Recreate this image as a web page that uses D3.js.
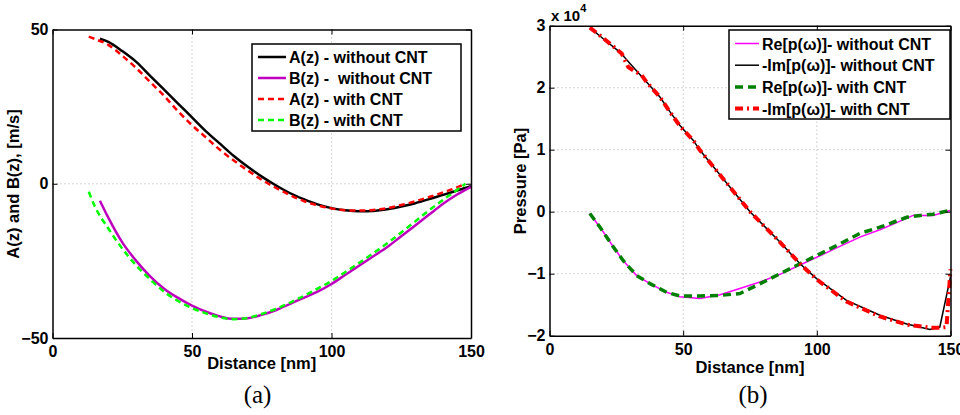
<!DOCTYPE html>
<html>
<head>
<meta charset="utf-8">
<script src="https://cdn.jsdelivr.net/npm/d3@7"></script>
<style>
  body { margin: 0; background: #fff; }
  svg { display: block; }
  text { font-family: "Liberation Sans", Arial, sans-serif; font-weight: bold; }
  .cap { font-family: "Liberation Serif", "Times New Roman", serif; font-weight: normal; }
</style>
</head>
<body>
<svg id="chart" width="960" height="415"></svg>
<script>
// ---- panel (a) data: A(z), B(z) [m/s] vs distance [nm]
const aNoCntX = [17, 20, 25, 30, 35, 40, 45, 50, 55, 60, 65, 70, 75, 80, 85, 90, 95, 100, 105, 110, 115, 120, 125, 130, 135, 140, 145, 150];
const aNoCntY = [47, 46, 43, 39.5, 35, 30.5, 26, 21.5, 17, 13, 9, 5.5, 2.3, -0.5, -3, -5, -6.7, -7.9, -8.6, -8.9, -8.8, -8.3, -7.4, -6.3, -5, -3.6, -2.2, -0.8];
const bNoCntX = [17, 20, 25, 30, 35, 40, 45, 50, 55, 60, 65, 70, 75, 80, 85, 90, 95, 100, 105, 110, 115, 120, 125, 130, 135, 140, 145, 150];
const bNoCntY = [-5.5, -11, -19, -25, -30, -34, -37, -39.5, -41.5, -43, -43.8, -43.6, -42.5, -41, -39, -37, -35, -32.5, -29.5, -26.5, -23.5, -20.5, -17, -13.5, -10, -6.5, -3.5, -1];
const aCntX = [13, 15, 20, 25, 30, 35, 40, 45, 50, 55, 60, 65, 70, 75, 80, 85, 90, 95, 100, 105, 110, 115, 120, 125, 130, 135, 140, 145, 148];
const aCntY = [47.7, 47, 45, 41.5, 37.5, 33, 28.5, 23.5, 19, 15, 11, 7.5, 4.3, 1.3, -1.3, -3.6, -5.6, -7, -8, -8.6, -8.7, -8.5, -7.9, -6.9, -5.7, -4.3, -2.8, -1.2, 0];
const bCntX = [13, 15, 20, 25, 30, 35, 40, 45, 50, 55, 60, 65, 70, 75, 80, 85, 90, 95, 100, 105, 110, 115, 120, 125, 130, 135, 140, 145, 148];
const bCntY = [-2.6, -7, -14.5, -21, -26.5, -31, -35, -38, -40.3, -42, -43.3, -43.9, -43.5, -42.2, -40.6, -38.6, -36.4, -34, -31.5, -28.6, -25.6, -22.5, -19.3, -15.8, -12.2, -8.6, -5.2, -2, 0];

// ---- panel (b) data: pressure [x 10^4 Pa] vs distance [nm]
const reNoCntX = [15, 18.9, 23.9, 27.6, 32.6, 37.6, 43.8, 48.8, 56.3, 63.8, 71.2, 78.7, 86.2, 93.7, 101.2, 108.6, 116.1, 123.6, 128.6, 136, 143.5, 149.8];
const reNoCntY = [-0.03, -0.25, -0.57, -0.79, -1.03, -1.16, -1.3, -1.37, -1.40, -1.34, -1.24, -1.135, -1.01, -0.86, -0.71, -0.56, -0.41, -0.29, -0.2, -0.06, -0.06, 0.02];
const imNoCntX = [15.1, 20.1, 26.4, 30.1, 36.3, 41.3, 45.1, 48.8, 53.8, 56.3, 75, 86.2, 93.7, 99.9, 111.1, 123.6, 133.6, 142.3, 146, 150];
const imNoCntY = [2.97, 2.79, 2.57, 2.39, 2.09, 1.85, 1.61, 1.39, 1.15, 0.99, 0.0, -0.49, -0.84, -1.08, -1.43, -1.67, -1.81, -1.90, -1.86, -1.05];
const reCntX = [15.1, 18.9, 23.9, 27.6, 32.6, 37.6, 43.8, 48.8, 56.3, 63.8, 71.2, 75, 81.2, 86.2, 93.7, 101.2, 108.6, 116.1, 123.6, 128.6, 133.6, 138.6, 143.5, 149.8];
const reCntY = [-0.03, -0.25, -0.57, -0.79, -1.03, -1.16, -1.3, -1.36, -1.36, -1.35, -1.32, -1.24, -1.11, -1.0, -0.84, -0.68, -0.52, -0.35, -0.25, -0.17, -0.09, -0.06, -0.04, 0.02];
const imCntX = [15.1, 20.1, 24, 27, 29.5, 31.3, 34.5, 36.3, 41.3, 45.5, 49, 53.8, 56.3, 75, 86.2, 93.7, 99.9, 111.1, 123.6, 133.6, 142.3, 146.5, 148.5, 150];
const imCntY = [2.97, 2.8, 2.66, 2.55, 2.33, 2.28, 2.2, 2.09, 1.85, 1.58, 1.37, 1.15, 0.99, 0.0, -0.49, -0.84, -1.09, -1.45, -1.69, -1.82, -1.87, -1.87, -1.86, -0.93];

// ticks
const xTicks = [0, 50, 100, 150];
const aYTicks = [-50, 0, 50];
const bYTicks = [-2, -1, 0, 1, 2, 3];

const svg = d3.select('#chart');

function zip(xs, ys) {
    return xs.map((x, i) => ({ x: x, y: ys[i] }));
}

function drawPanel(p) {
    const x = d3.scaleLinear().domain([0, 150]).range([p.left, p.right]);
    const y = d3.scaleLinear().domain(p.yDomain).range([p.bottom, p.top]);
    const g = svg.append('g');

    // dotted grid (not on the box edges)
    g.selectAll('.gx').data(xTicks.filter(t => t > 0 && t < 150)).enter().append('line')
        .attr('x1', d => x(d)).attr('x2', d => x(d))
        .attr('y1', p.top).attr('y2', p.bottom)
        .style('stroke', '#aaa').style('stroke-dasharray', '1,3');
    g.selectAll('.gy').data(p.yTicks.filter(t => t > p.yDomain[0] && t < p.yDomain[1])).enter().append('line')
        .attr('x1', p.left).attr('x2', p.right)
        .attr('y1', d => y(d)).attr('y2', d => y(d))
        .style('stroke', '#aaa').style('stroke-dasharray', '1,3');

    // series
    p.series.forEach(s => {
        const line = d3.line().x(d => x(d.x)).y(d => y(d.y)).curve(p.curve);
        g.append('path')
            .datum(zip(s.xs, s.ys))
            .attr('d', line)
            .style('fill', 'none')
            .style('stroke', s.color)
            .style('stroke-width', s.width)
            .style('stroke-dasharray', s.dash || null);
    });

    // axes, MATLAB-style inward ticks on all sides
    const fmt = d3.format('d');
    g.append('g').attr('transform', `translate(0,${p.bottom})`)
        .call(d3.axisBottom(x).tickValues(xTicks).tickSizeInner(-5).tickSizeOuter(0).tickPadding(8).tickFormat(fmt));
    g.append('g').attr('transform', `translate(0,${p.top})`)
        .call(d3.axisTop(x).tickValues(xTicks).tickSizeInner(-5).tickSizeOuter(0).tickFormat(''));
    g.append('g').attr('transform', `translate(${p.left},0)`)
        .call(d3.axisLeft(y).tickValues(p.yTicks).tickSizeInner(-5).tickSizeOuter(0).tickPadding(4).tickFormat(fmt));
    g.append('g').attr('transform', `translate(${p.right},0)`)
        .call(d3.axisRight(y).tickValues(p.yTicks).tickSizeInner(-5).tickSizeOuter(0).tickFormat(''));
    g.selectAll('.domain').style('stroke', '#000').style('stroke-width', 1.5);
    g.selectAll('.tick line').style('stroke', '#000');
    g.selectAll('.tick text').style('font-size', '16px').style('font-weight', 'bold')
        .style('font-family', '"Liberation Sans", Arial, sans-serif').style('fill', '#000');

    // axis labels
    g.append('text').attr('x', (p.left + p.right) / 2).attr('y', p.xLabelY)
        .attr('text-anchor', 'middle').style('font-size', '16.5px').text('Distance [nm]');
    g.append('text')
        .attr('transform', `translate(${p.yLabelX},${p.yLabelY}) rotate(-90)`)
        .attr('text-anchor', 'middle').style('font-size', '16.5px').text(p.yLabel);

    // caption
    g.append('text').attr('class', 'cap').attr('x', p.capX).attr('y', 403)
        .attr('text-anchor', 'middle').style('font-size', '25px').text(p.caption);

    // legend
    const L = p.legend;
    g.append('rect').attr('x', L.x).attr('y', L.y).attr('width', L.w).attr('height', L.h)
        .style('fill', '#fff').style('stroke', '#000').style('stroke-width', 1.5);
    p.series.forEach((s, i) => {
        const ry = L.y + L.first + i * L.step;
        g.append('line').attr('x1', L.x + L.s0).attr('x2', L.x + L.s1).attr('y1', ry).attr('y2', ry)
            .style('stroke', s.color).style('stroke-width', s.width).style('stroke-dasharray', s.dash || null);
        g.append('text').attr('x', L.x + L.s1 + 3).attr('y', ry + 6)
            .style('font-size', '16px').style('white-space', 'pre').text(s.label);
    });
    return g;
}

drawPanel({
    left: 52.5, right: 471, top: 29.5, bottom: 338,
    yDomain: [-50, 50], yTicks: aYTicks,
    curve: d3.curveMonotoneX,
    xLabelY: 369, yLabelX: 19, yLabelY: 184, yLabel: 'A(z) and B(z), [m/s]',
    capX: 257.5, caption: '(a)',
    legend: { x: 252, y: 44, w: 209, h: 87, first: 13, step: 21, s0: 6, s1: 34 },
    series: [
        { xs: aNoCntX, ys: aNoCntY, color: '#000', width: 2.5, label: 'A(z) - without CNT' },
        { xs: bNoCntX, ys: bNoCntY, color: '#bf00bf', width: 2.5, label: 'B(z) -  without CNT' },
        { xs: aCntX, ys: aCntY, color: '#ff0000', width: 2.5, dash: '6,4', label: 'A(z) - with CNT' },
        { xs: bCntX, ys: bCntY, color: '#00ff00', width: 2.5, dash: '6,4', label: 'B(z) - with CNT' }
    ]
});

const gb = drawPanel({
    left: 549.5, right: 950.5, top: 25.7, bottom: 335.7,
    yDomain: [-2, 3], yTicks: bYTicks,
    curve: d3.curveLinear,
    xLabelY: 373, yLabelX: 526, yLabelY: 181, yLabel: 'Pressure [Pa]',
    capX: 753, caption: '(b)',
    legend: { x: 729, y: 30, w: 221, h: 89, first: 13.5, step: 21.7, s0: 6, s1: 30 },
    series: [
        { xs: reNoCntX, ys: reNoCntY, color: '#ff00ff', width: 1.5, label: 'Re[p(\u03c9)]- without CNT' },
        { xs: imNoCntX, ys: imNoCntY, color: '#000', width: 1.5, label: '-Im[p(\u03c9)]- without CNT' },
        { xs: reCntX, ys: reCntY, color: '#008000', width: 3.5, dash: '8,5', label: 'Re[p(\u03c9)]- with CNT' },
        { xs: imCntX, ys: imCntY, color: '#ff0000', width: 4, dash: '8,4,2,4', label: '-Im[p(\u03c9)]- with CNT' }
    ]
});

// exponent label
const ex = gb.append('text').attr('x', 551).attr('y', 21).style('font-size', '15px');
ex.append('tspan').text('x 10');
ex.append('tspan').attr('dy', -9).style('font-size', '11px').text('4');
</script>
</body>
</html>
